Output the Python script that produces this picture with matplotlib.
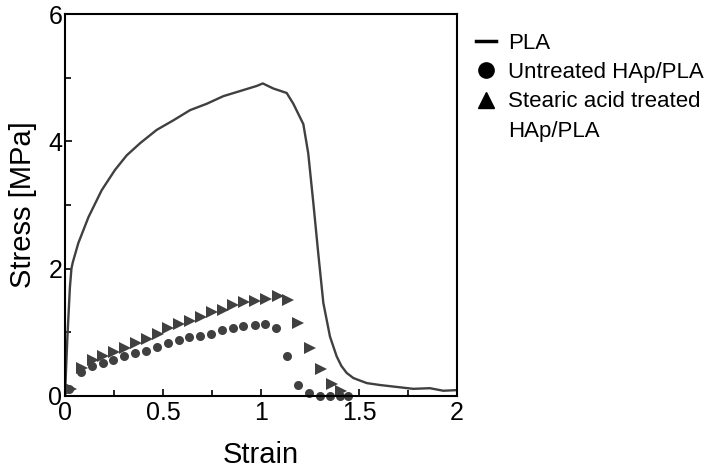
import matplotlib
matplotlib.use('Agg')
import matplotlib.pyplot as plt
from matplotlib.lines import Line2D

plt.rcParams['font.family'] = ['Liberation Sans', 'DejaVu Sans']

# PLA の応力-ひずみ曲線
pla_strain = [0, 0.012, 0.025, 0.033, 0.04, 0.068, 0.12, 0.187, 0.255, 0.315,
              0.383, 0.468, 0.553, 0.638, 0.723, 0.808, 0.893, 0.978, 1.009,
              1.063, 1.131, 1.165, 1.216, 1.241, 1.267, 1.292, 1.318, 1.352,
              1.386, 1.41, 1.437, 1.471, 1.505, 1.54, 1.607, 1.692, 1.777,
              1.862, 1.93, 2.0]
pla_stress = [0, 0.9, 1.7, 2.0, 2.1, 2.40, 2.81, 3.23, 3.55, 3.78,
              3.97, 4.18, 4.33, 4.49, 4.59, 4.71, 4.79, 4.87, 4.91,
              4.83, 4.76, 4.59, 4.27, 3.81, 3.03, 2.24, 1.46, 0.93,
              0.62, 0.47, 0.36, 0.28, 0.24, 0.20, 0.17, 0.14, 0.11,
              0.12, 0.08, 0.09]

# 未処理 HAp/PLA
untreated_strain = [0.02, 0.08, 0.136, 0.192, 0.247, 0.303, 0.357, 0.413, 0.468,
                    0.524, 0.58, 0.634, 0.69, 0.746, 0.80, 0.855, 0.91, 0.968,
                    1.022, 1.077, 1.133, 1.187, 1.243, 1.30, 1.354, 1.403, 1.446]
untreated_stress = [0.10, 0.38, 0.47, 0.52, 0.565, 0.63, 0.67, 0.71, 0.77,
                    0.83, 0.87, 0.92, 0.94, 0.97, 1.03, 1.06, 1.09, 1.11,
                    1.13, 1.06, 0.62, 0.17, 0.04, 0.0, 0.0, 0.0, 0.0]

# ステアリン酸処理 HAp/PLA
stearic_strain = [0.03, 0.085, 0.141, 0.196, 0.252, 0.306, 0.362, 0.417, 0.473,
                  0.527, 0.583, 0.638, 0.694, 0.748, 0.804, 0.859, 0.915, 0.969,
                  1.026, 1.088, 1.139, 1.19, 1.25, 1.305, 1.36, 1.41]
stearic_stress = [0.10, 0.43, 0.57, 0.63, 0.69, 0.75, 0.83, 0.90, 0.97,
                  1.06, 1.13, 1.18, 1.24, 1.31, 1.35, 1.42, 1.47, 1.49,
                  1.52, 1.57, 1.50, 1.15, 0.75, 0.42, 0.18, 0.08]

legend_labels = ['PLA', 'Untreated HAp/PLA', 'Stearic acid treated', 'HAp/PLA']

col = '#404040'

fig = plt.figure(figsize=(7.22, 4.69), dpi=100)
ax = fig.add_axes([0.090, 0.156, 0.543, 0.814])

ax.plot(pla_strain, pla_stress, color=col, lw=1.7)
ax.plot(untreated_strain, untreated_stress, 'o', color=col, ms=6.5, mew=0, clip_on=False)
ax.plot(stearic_strain, stearic_stress, '>', color=col, ms=8, mew=0, clip_on=False)

ax.set_xlim(0, 2)
ax.set_ylim(0, 6)
ax.set_xticks([0, 0.5, 1, 1.5, 2])
ax.set_xticklabels(['0', '0.5', '1', '1.5', '2'])
ax.set_xticks([0.25, 0.75, 1.25, 1.75], minor=True)
ax.set_yticks([0, 2, 4, 6])
ax.set_yticks([1, 3, 5], minor=True)
ax.tick_params(which='both', direction='in', labelsize=18, width=1.2)
ax.tick_params(which='major', length=5)
ax.tick_params(which='minor', length=4)
ax.tick_params(axis='y', pad=2)
ax.tick_params(axis='x', pad=4)
for s in ax.spines.values():
    s.set_linewidth(1.5)

ax.set_xlabel('Strain', fontsize=21, labelpad=11)
ax.set_ylabel('Stress [MPa]', fontsize=21, labelpad=8)

handles = [Line2D([], [], color='black', lw=2.5),
           Line2D([], [], marker='o', color='black', ls='none', ms=11),
           Line2D([], [], marker='^', color='black', ls='none', ms=12),
           Line2D([], [], ls='none')]
ax.legend(handles, legend_labels, loc='upper left', bbox_to_anchor=(1.025, 0.975),
          frameon=False, fontsize=16, handlelength=0.9, handletextpad=0.55,
          labelspacing=0.38, borderaxespad=0)

fig.savefig('out.png', dpi=100)
